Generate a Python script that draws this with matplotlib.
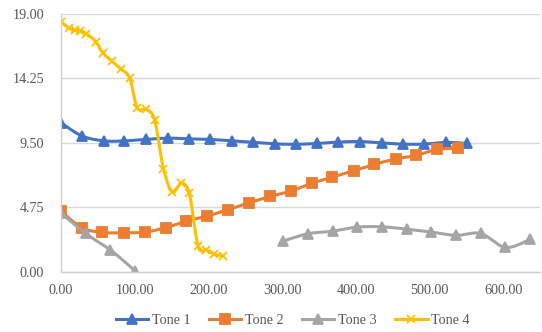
import numpy as np
import matplotlib
matplotlib.use('Agg')
import matplotlib.pyplot as plt
from matplotlib.lines import Line2D
from matplotlib.ticker import FormatStrFormatter

# Tone 1
x_tone1 = [0, 29, 59, 86, 115, 145, 174, 202, 232, 261,
           290, 319, 348, 376, 406, 435, 464, 492, 522, 551]
y_tone1 = [10.98, 10.0, 9.65, 9.65, 9.76, 9.85, 9.80, 9.76, 9.65, 9.54,
           9.43, 9.40, 9.46, 9.56, 9.60, 9.50, 9.41, 9.41, 9.54, 9.46]

# Tone 2
x_tone2 = [0, 28, 56, 85, 114, 142, 170, 198, 227, 255,
           284, 312, 340, 368, 397, 425, 454, 482, 510, 538]
y_tone2 = [4.48, 3.26, 2.91, 2.88, 2.93, 3.26, 3.73, 4.11, 4.59, 5.09,
           5.56, 5.95, 6.52, 6.98, 7.44, 7.92, 8.32, 8.58, 9.02, 9.10]

# Tone 3 (gap between 100 and 300)
x_tone3 = [0, 33.5, 67, 100.5, 134, 167.5, 201, 234.5, 268,
           301.5, 335, 368.5, 402, 435.5, 469, 502.5, 536, 569.5, 603, 636.5]
y_tone3 = [4.35, 2.83, 1.62, 0.08, np.nan, np.nan, np.nan, np.nan, np.nan,
           2.27, 2.81, 3.00, 3.30, 3.32, 3.15, 2.93, 2.69, 2.83, 1.80, 2.39]

# Tone 4
x_tone4 = [0, 10.8, 19, 26, 34.6, 47, 57, 69, 81, 93,
           103.5, 115.5, 127, 139, 151, 163, 174, 186, 197, 208, 220]
y_tone4 = [18.42, 17.95, 17.83, 17.75, 17.55, 16.97, 16.13, 15.52, 14.95, 14.30,
           12.08, 11.98, 11.20, 7.60, 5.90, 6.52, 5.80, 1.90, 1.63, 1.30, 1.18]

y_ticks = [0, 4.75, 9.5, 14.25, 19]
x_ticks = [0, 100, 200, 300, 400, 500, 600]


def smooth_line(xs, ys, steps=16):
    # Excel-like smoothed line: catmull-rom curve through the points, split at gaps
    xs = np.asarray(xs, float)
    ys = np.asarray(ys, float)
    ok = ~np.isnan(ys)
    out_x, out_y = [], []
    i = 0
    while i < len(xs):
        if not ok[i]:
            i += 1
            continue
        j = i
        while j < len(xs) and ok[j]:
            j += 1
        px, py = xs[i:j], ys[i:j]
        if len(px) > 1:
            ex = np.concatenate([[px[0]], px, [px[-1]]])
            ey = np.concatenate([[py[0]], py, [py[-1]]])
            t = np.linspace(0, 1, steps)
            for k in range(1, len(ex) - 2):
                for a, b in ((ex, out_x), (ey, out_y)):
                    p0, p1, p2, p3 = a[k - 1], a[k], a[k + 1], a[k + 2]
                    c1 = p1 + (p2 - p0) / 6
                    c2 = p2 - (p3 - p1) / 6
                    b.extend((1 - t) ** 3 * p1 + 3 * (1 - t) ** 2 * t * c1
                             + 3 * (1 - t) * t ** 2 * c2 + t ** 3 * p2)
        out_x.append(np.nan)
        out_y.append(np.nan)
        i = j
    return out_x, out_y


plt.rcParams['font.family'] = ['Liberation Serif', 'DejaVu Serif']

fig = plt.figure(figsize=(5.42, 3.32), dpi=100)
ax = fig.add_axes([0.1125, 0.181, 0.884, 0.777])

series = [
    (x_tone1, y_tone1, '#4472C4', '^', 7, 'Tone 1'),
    (x_tone2, y_tone2, '#ED7D31', 's', 6.5, 'Tone 2'),
    (x_tone3, y_tone3, '#A5A5A5', '^', 7, 'Tone 3'),
    (x_tone4, y_tone4, '#FFC000', 'x', 6, 'Tone 4'),
]
handles = []
for xs, ys, col, mk, ms, name in series:
    sx, sy = smooth_line(xs, ys)
    ax.plot(sx, sy, color=col, lw=2.2)
    ax.plot(xs, ys, ls='none', color=col, marker=mk, ms=ms, mew=1.3)
    handles.append(Line2D([], [], color=col, lw=2.2, marker=mk, ms=ms, mew=1.3))

ax.set_xlim(0, 650)
ax.set_ylim(0, 19)
ax.set_xticks(x_ticks)
ax.set_yticks(y_ticks)
ax.xaxis.set_major_formatter(FormatStrFormatter('%.2f'))
ax.yaxis.set_major_formatter(FormatStrFormatter('%.2f'))
ax.tick_params(axis='both', length=0, labelsize=10.2, labelcolor='#595959')
ax.tick_params(axis='y', pad=12)
ax.tick_params(axis='x', pad=9)

ax.grid(axis='y', color='#D9D9D9', lw=1)
ax.set_axisbelow(True)
for side in ['top', 'right']:
    ax.spines[side].set_visible(False)
for side in ['left', 'bottom']:
    ax.spines[side].set_color('#D0D0D0')
    ax.spines[side].set_linewidth(1)

fig.legend(handles, [s[5] for s in series], loc='center', bbox_to_anchor=(0.54, 0.036),
           ncol=4, frameon=False, fontsize=10.2, handlelength=2.3, handletextpad=0.25,
           columnspacing=1.3, labelcolor='#595959')

fig.savefig('out.png', dpi=100)
